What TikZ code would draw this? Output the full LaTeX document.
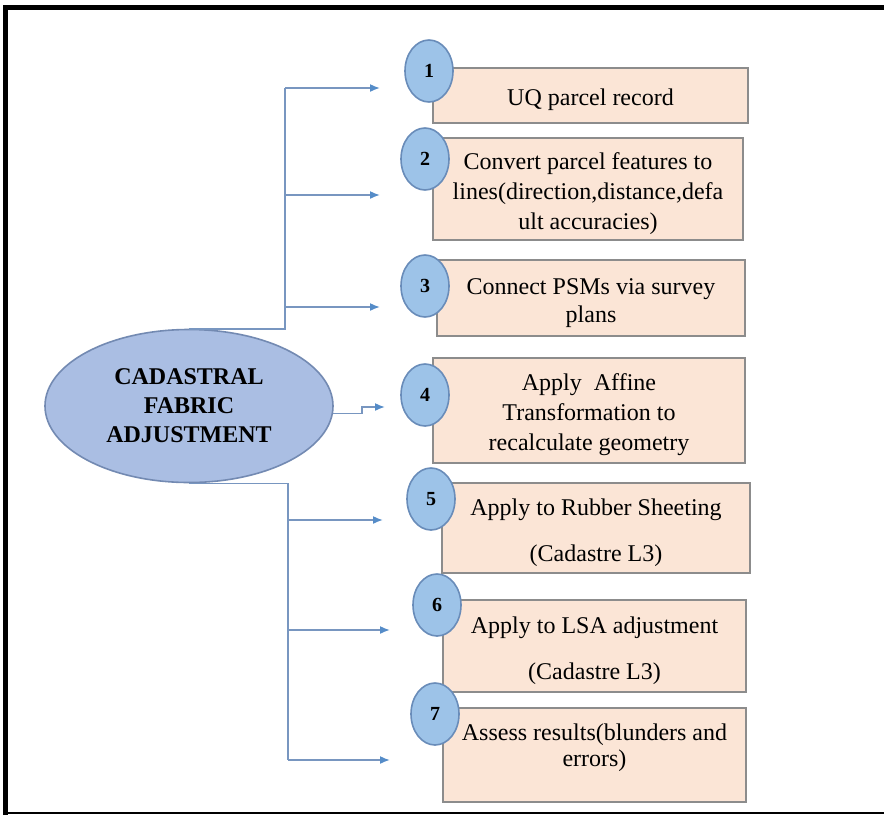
\documentclass[tikz,border=0pt]{standalone}
\usepackage{fontspec}
\setmainfont{Liberation Serif}
\usepackage{xcolor}
\usetikzlibrary{shapes.geometric,arrows.meta,positioning}
\definecolor{stepfill}{RGB}{251, 229, 214}
\definecolor{stepedge}{RGB}{140, 140, 140}
\definecolor{numfill}{RGB}{157, 195, 232}
\definecolor{numedge}{RGB}{105, 140, 185}
\definecolor{hubfill}{RGB}{170, 190, 227}
\definecolor{hubedge}{RGB}{115, 138, 178}
\definecolor{linkcolor}{RGB}{120, 150, 192}
\definecolor{tipcolor}{RGB}{85, 140, 200}

% strut that pushes the box text a little down
\newcommand{\stepstrut}{\rule{0pt}{12.8pt}}

\tikzset{
  stepbox/.style={draw=stepedge, fill=stepfill, line width=1pt, inner sep=0pt, align=center, font=\fontsize{12}{15}\selectfont},
  numball/.style={ellipse, draw=numedge, fill=numfill, line width=0.8pt, inner sep=0pt, minimum width=24pt, minimum height=31pt, font=\bfseries\fontsize{10}{12}\selectfont},
  hubball/.style={ellipse, draw=hubedge, fill=hubfill, line width=0.8pt, inner sep=0pt, minimum width=144pt, minimum height=76.5pt, align=center, font=\bfseries\fontsize{12}{14.5}\selectfont},
  link/.style={linkcolor, line width=0.8pt},
  linkarrow/.style={-{Latex[length=5pt, width=4pt, color=tipcolor]}, linkcolor, line width=0.8pt}
}

\begin{document}
\begin{tikzpicture}[x=0.5pt, y=-0.5pt]
  % Page size and frame
  \useasboundingbox (0,0) rectangle (884,815);
  \draw[line width=2.5pt] (5.5,815) -- (5.5,7) -- (884,7);
  \draw[line width=0.75pt] (5.5,813) -- (884,813);

  % Central ellipse
  \node[hubball] (hub) at (189,406) {CADASTRAL\\FABRIC\\ADJUSTMENT};

  % Step boxes
  \node[stepbox, minimum width=157.5pt, minimum height=27.5pt] (b1) at (590.5,95.5) {\stepstrut UQ parcel record};
  \node[stepbox, minimum width=155pt, minimum height=51pt] (b2) at (588,189) {\stepstrut Convert parcel features to\\lines(direction,distance,defa\\ult accuracies)};
  \node[stepbox, minimum width=154pt, minimum height=38pt, font=\fontsize{12}{14}\selectfont] (b3) at (591,298) {\stepstrut Connect PSMs via survey\\plans};
  \node[stepbox, minimum width=156pt, minimum height=52.5pt] (b4) at (589,410.5) {\stepstrut Apply\ \ Affine\\Transformation to\\recalculate geometry};
  \node[stepbox, minimum width=154pt, minimum height=45pt] (b5) at (596,528) {\stepstrut Apply to Rubber Sheeting\\[8pt](Cadastre L3)};
  \node[stepbox, minimum width=151.5pt, minimum height=46pt] (b6) at (594.5,646) {\stepstrut Apply to LSA adjustment\\[8pt](Cadastre L3)};
  \node[stepbox, minimum width=151.5pt, minimum height=47pt, font=\fontsize{12}{13}\selectfont] (b7) at (594.5,755) {\stepstrut Assess results(blunders and\\errors)\\[1.5pt]};

  % Numbered circles
  \foreach \i/\x/\y in {1/429/71, 2/425/159, 3/425/286, 4/425/395, 5/431/499, 6/437/605, 7/435/714} {
    \node[numball] (c\i) at (\x,\y) {\i};
  }

  % Arrow ends
  \coordinate (upbus) at (285,88);
  \coordinate (lowbus) at (288,760);
  \coordinate (t1) at (380,88);
  \coordinate (t2) at (380,195);
  \coordinate (t3) at (380,307);
  \coordinate (t4) at (385,407);
  \coordinate (t5) at (383,520);
  \coordinate (t6) at (390,630);
  \coordinate (t7) at (390,760);

  % Upper branches
  \draw[link] (hub.north) -| (upbus);
  \draw[linkarrow] (upbus) -- (t1);
  \draw[linkarrow] (t2 -| upbus) -- (t2);
  \draw[linkarrow] (t3 -| upbus) -- (t3);

  % Middle branch
  \draw[linkarrow] (hub.-3) -- ++(29,0) |- (t4);

  % Lower branches
  \draw[link] (hub.south) -| (lowbus);
  \draw[linkarrow] (t5 -| lowbus) -- (t5);
  \draw[linkarrow] (t6 -| lowbus) -- (t6);
  \draw[linkarrow] (lowbus) -- (t7);

\end{tikzpicture}
\end{document}
